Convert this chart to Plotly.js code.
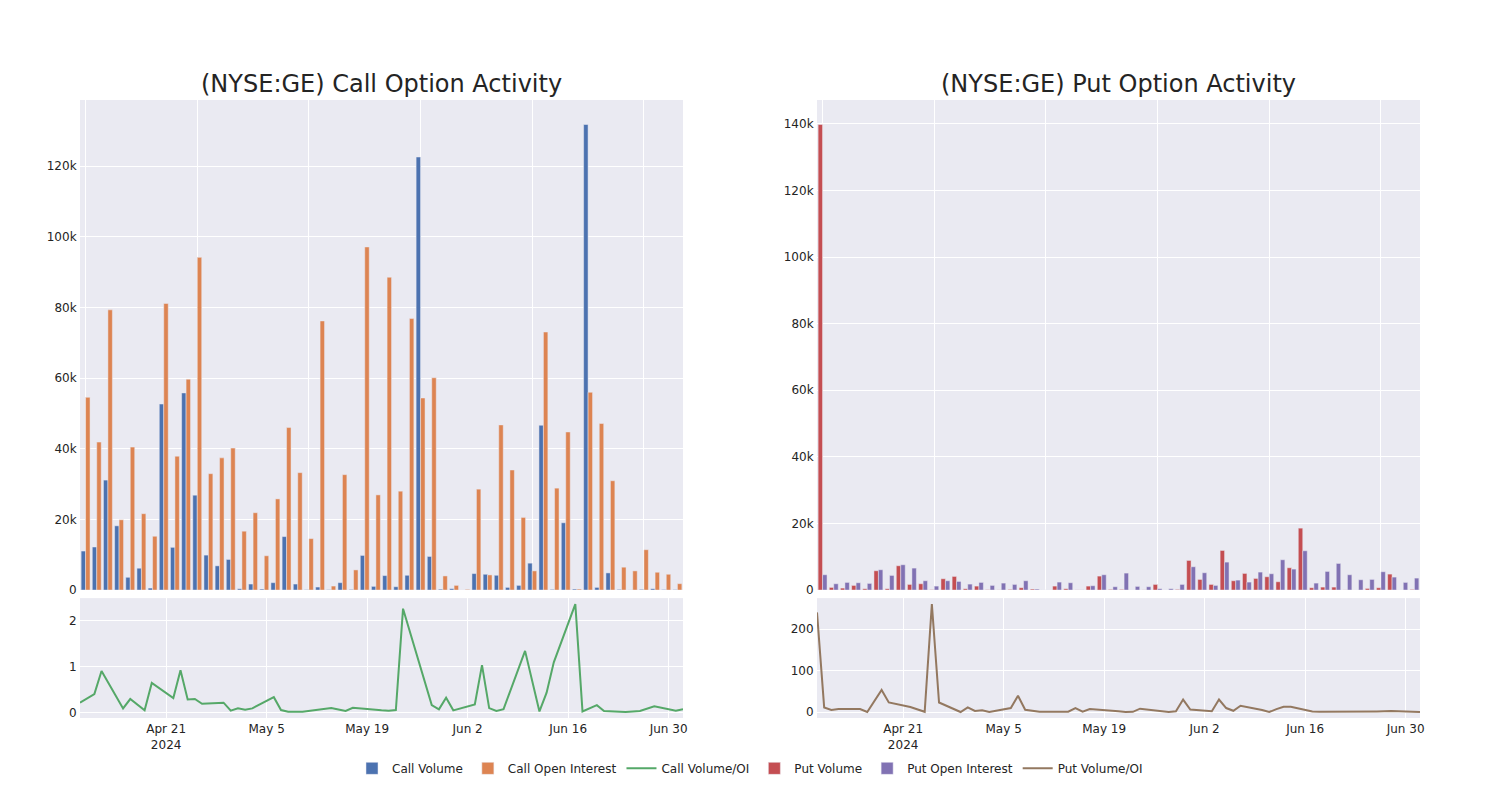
<!DOCTYPE html>
<html>
<head>
<meta charset="utf-8">
<script src="https://cdn.plot.ly/plotly-3.0.1.min.js"></script>
<style>html,body{margin:0;padding:0;background:#fff;}</style>
</head>
<body>
<div id="chart" style="width:1500px;height:800px;"></div>
<script>
const dates = [
  "2024-04-09","2024-04-10","2024-04-11","2024-04-12","2024-04-15","2024-04-16","2024-04-18","2024-04-19",
  "2024-04-22","2024-04-23","2024-04-24","2024-04-25","2024-04-26","2024-04-29","2024-04-30",
  "2024-05-01","2024-05-02","2024-05-03","2024-05-06","2024-05-07","2024-05-08","2024-05-10",
  "2024-05-14","2024-05-15","2024-05-16","2024-05-17","2024-05-20","2024-05-21","2024-05-22","2024-05-23","2024-05-24",
  "2024-05-28","2024-05-29","2024-05-30","2024-05-31","2024-06-03","2024-06-04","2024-06-05","2024-06-06","2024-06-07",
  "2024-06-10","2024-06-11","2024-06-12","2024-06-13","2024-06-14","2024-06-17","2024-06-18","2024-06-20","2024-06-21",
  "2024-06-24","2024-06-26","2024-06-28","2024-07-01","2024-07-02"
];

const callVolume = [11050, 12190, 31140, 18190, 3620, 6190, 570, 52670, 12100, 55810,
  26860, 9900, 6860, 8670, 380, 1710, 290, 2100, 15140, 1710,
  100, 860, 106, 2100, 170, 9810, 1050, 4100, 950, 4190,
  122600, 9520, 250, 400, 10, 4670, 4480, 4190, 760, 1330,
  7620, 46670, 190, 19050, 290, 131800, 760, 4860, 190, 40,
  200, 380, 160, 127];

const callOI = [54570, 41900, 79330, 19900, 40480, 21620, 15240, 81140, 37900, 59710,
  94190, 32950, 37430, 40190, 16670, 21900, 9710, 25810, 46000, 33240,
  14570, 76190, 1140, 32670, 5710, 97140, 26950, 88570, 28000, 76860,
  54380, 60100, 4000, 1330, 200, 28570, 4290, 46760, 34000, 20570,
  5430, 73050, 28860, 44760, 290, 56000, 47140, 30950, 6480, 5430,
  11430, 5050, 4480, 1810];

const callRatio = [0.21, 0.30, 0.40, 0.90, 0.086, 0.29, 0.043, 0.64, 0.31, 0.92,
  0.28, 0.29, 0.186, 0.21, 0.036, 0.086, 0.057, 0.086, 0.33, 0.05,
  0.014, 0.014, 0.093, 0.06, 0.03, 0.10, 0.045, 0.043, 0.036, 0.05,
  2.26, 0.16, 0.064, 0.32, 0.043, 0.17, 1.03, 0.093, 0.03, 0.07,
  1.34, 0.66, 0.02, 0.43, 1.09, 2.36, 0.02, 0.157, 0.03, 0.007,
  0.03, 0.13, 0.036, 0.07];

const putVolume = [139800, 800, 600, 1400, 400, 5800, 400, 7300, 1700, 1900,
  100, 3400, 4100, 400, 1200, 100, 50, 200, 700, 300,
  0, 1200, 400, 50, 1200, 4200, 200, 200, 0, 50,
  1700, 0, 200, 8900, 3200, 1700, 11900, 2800, 5000, 3500,
  4000, 2500, 6700, 18600, 700, 900, 900, 50, 0, 500,
  700, 4800, 0, 200];

const putOI = [4600, 1900, 2300, 2200, 2000, 6100, 4400, 7600, 6600, 2800,
  1200, 2800, 2600, 1800, 2300, 1400, 2100, 1700, 2800, 300,
  0, 2400, 2200, 50, 1300, 4600, 1000, 5100, 1100, 1000,
  400, 400, 1700, 7000, 5200, 1400, 8400, 3000, 2400, 5400,
  4900, 9100, 6300, 11800, 2100, 5600, 8000, 4600, 3100, 3200,
  5500, 3900, 2300, 3600];

const putRatio = [240, 11, 5, 7, 7, 0, 53, 23, 12, 5.5,
  0.5, 260, 23, 0, 11, 2.4, 4, 0, 9.5, 39,
  5.5, 0.8, 0.8, 9.5, 0.8, 7, 4, 2, 0, 0.5,
  8, 0, 1.6, 30, 6, 2, 30, 9.5, 3, 15,
  5, 0, 7, 12.7, 12.7, 1, 0.5, 0.3, 0.3, 0.5,
  1.5, 2.5, 1, 0];

const titles = ["(NYSE:GE) Call Option Activity", "(NYSE:GE) Put Option Activity"];

const C = {blue:"#4C72B0", orange:"#DD8452", green:"#55A868", red:"#C44E52", purple:"#8172B3", brown:"#937860"};
const barLine = {color:"rgb(234,234,242)", width:0.5};

const traces = [
  {type:"bar", name:"Call Volume", x:dates, y:callVolume, xaxis:"x", yaxis:"y", marker:{color:C.blue, line:barLine}},
  {type:"bar", name:"Call Open Interest", x:dates, y:callOI, xaxis:"x", yaxis:"y", marker:{color:C.orange, line:barLine}},
  {type:"scatter", mode:"lines", name:"Call Volume/OI", x:dates, y:callRatio, xaxis:"x2", yaxis:"y2", line:{color:C.green, width:2}},
  {type:"bar", name:"Put Volume", x:dates, y:putVolume, xaxis:"x3", yaxis:"y3", marker:{color:C.red, line:barLine}},
  {type:"bar", name:"Put Open Interest", x:dates, y:putOI, xaxis:"x3", yaxis:"y3", marker:{color:C.purple, line:barLine}},
  {type:"scatter", mode:"lines", name:"Put Volume/OI", x:dates, y:putRatio, xaxis:"x4", yaxis:"y4", line:{color:C.brown, width:2}}
];

const grid = {gridcolor:"white", linecolor:"white", zerolinecolor:"white", showgrid:true, ticks:"", tickfont:{size:12}};
const topDom = [0.207, 1], botDom = [0, 0.194];
const leftDom = [0, 0.45], rightDom = [0.55, 1];

const layout = {
  width:1500, height:800,
  paper_bgcolor:"white", plot_bgcolor:"rgb(234,234,242)",
  font:{family:"DejaVu Sans, sans-serif", color:"rgb(36,36,36)", size:12},
  margin:{l:80, r:80, t:100, b:82},
  barmode:"group",
  showlegend:true,
  legend:{orientation:"h", x:0.5, xanchor:"center", y:-0.058, yanchor:"top", font:{size:12}},
  xaxis: Object.assign({}, grid, {domain:leftDom, anchor:"y", type:"category", showticklabels:false, tick0:0, dtick:10}),
  yaxis: Object.assign({}, grid, {domain:topDom, anchor:"x"}),
  xaxis2: Object.assign({}, grid, {domain:leftDom, anchor:"y2", type:"date"}),
  yaxis2: Object.assign({}, grid, {domain:botDom, anchor:"x2"}),
  xaxis3: Object.assign({}, grid, {domain:rightDom, anchor:"y3", type:"category", showticklabels:false, tick0:0, dtick:10}),
  yaxis3: Object.assign({}, grid, {domain:topDom, anchor:"x3"}),
  xaxis4: Object.assign({}, grid, {domain:rightDom, anchor:"y4", type:"date"}),
  yaxis4: Object.assign({}, grid, {domain:botDom, anchor:"x4"}),
  annotations:[
    {text:titles[0], x:(leftDom[0]+leftDom[1])/2, y:1, xref:"paper", yref:"paper", xanchor:"center", yanchor:"bottom", showarrow:false, font:{size:24}},
    {text:titles[1], x:(rightDom[0]+rightDom[1])/2, y:1, xref:"paper", yref:"paper", xanchor:"center", yanchor:"bottom", showarrow:false, font:{size:24}}
  ]
};

Plotly.newPlot("chart", traces, layout, {displayModeBar:false});
</script>
</body>
</html>
